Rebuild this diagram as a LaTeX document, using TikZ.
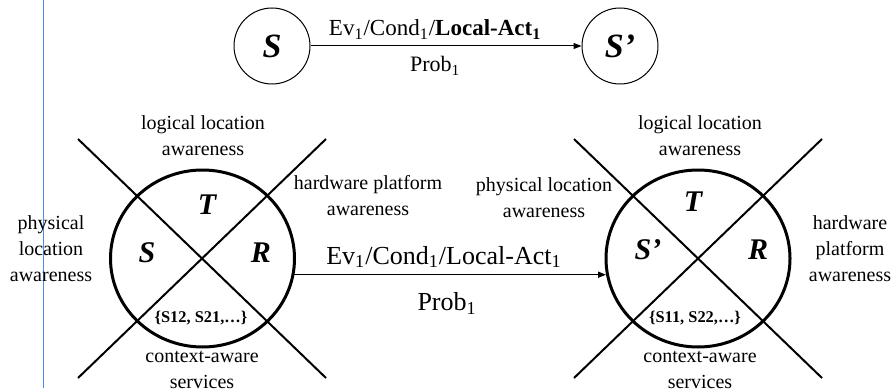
\documentclass[tikz,border=0pt]{standalone}
\usepackage{fontspec}
\setmainfont{Liberation Serif}
\usetikzlibrary{arrows.meta,shapes.geometric,positioning}

\definecolor{marginblue}{RGB}{70,140,225}

\tikzset{
  lbl/.style={align=center,font=\fontsize{10}{13}\selectfont,inner sep=0pt},
  sector/.style={font=\fontsize{15}{15}\selectfont\bfseries\itshape,inner sep=0pt},
  setlbl/.style={font=\fontsize{8.2}{10}\selectfont\bfseries,inner sep=0pt},
  statecirc/.style={draw,circle,line width=0.5pt,minimum size=38pt,inner sep=0pt,
    font=\fontsize{17}{17}\selectfont\bfseries\itshape},
  ctxell/.style={draw,ellipse,line width=1.5pt,minimum width=92pt,minimum height=88.5pt},
  trans/.style={-{Triangle[length=4pt,width=3pt]}},
}

\begin{document}
\begin{tikzpicture}[x=0.5pt,y=-0.5pt]
  \useasboundingbox (0,0) rectangle (893,390);
  \draw[marginblue,line width=0.5pt] (43,0) -- (43,388);

  \node[statecirc] (s) at (272,46) {S};
  \node[statecirc] (s2) at (620,46) {S’};
  \draw[trans,line width=0.5pt] (s) -- (s2)
    node[pos=0.46,above=3pt,inner sep=0pt,font=\fontsize{11.5}{12}\selectfont]
      {Ev\textsubscript{1}/Cond\textsubscript{1}/\textbf{Local-Act\textsubscript{1}}}
    node[pos=0.46,below=5pt,inner sep=0pt,font=\fontsize{11}{12}\selectfont]
      {Prob\textsubscript{1}};

  \node[ctxell] (lell) at (202.5,258.5) {};
  \node[ctxell] (rell) at (698,258.5) {};
  \foreach \cx in {202,698}
    \draw[line width=1pt] (\cx-124,139) -- (\cx+124,378) (\cx+124,139) -- (\cx-124,378);

  \node[lbl] (llog) at (203,136) {logical location\\awareness};
  \node[lbl] (lhw) at (368,196) {hardware platform\\awareness};
  \node[lbl] (lphys) at (51,249) {physical\\location\\awareness};
  \node[lbl] (lctx) at (202,370) {context-aware\\services};
  \node[sector] (lt) at (207,205) {T};
  \node[sector] (ls) at (147,253) {S};
  \node[sector] (lr) at (261,253) {R};
  \node[setlbl] (lset) at (201,318) {\{S12, S21,…\}};

  \node[lbl] (rlog) at (700,136) {logical location\\awareness};
  \node[lbl] (rphys) at (544,198) {physical location\\awareness};
  \node[lbl] (rhw) at (850,249) {hardware\\platform\\awareness};
  \node[lbl] (rctx) at (700,370) {context-aware\\services};
  \node[sector] (rt) at (693,202) {T};
  \node[sector] (rs) at (648,250) {S’};
  \node[sector] (rr) at (758,250) {R};
  \node[setlbl] (rset) at (695,318) {\{S11, S22,…\}};

  \draw[trans,line width=0.75pt] (lell.-10) -- (rell.190)
    node[pos=0.48,above=3pt,inner sep=0pt,font=\fontsize{13}{14}\selectfont]
      {Ev\textsubscript{1}/Cond\textsubscript{1}/Local-Act\textsubscript{1}}
    node[pos=0.49,below=8.5pt,inner sep=0pt,font=\fontsize{13}{14}\selectfont]
      {Prob\textsubscript{1}};
\end{tikzpicture}
\end{document}
